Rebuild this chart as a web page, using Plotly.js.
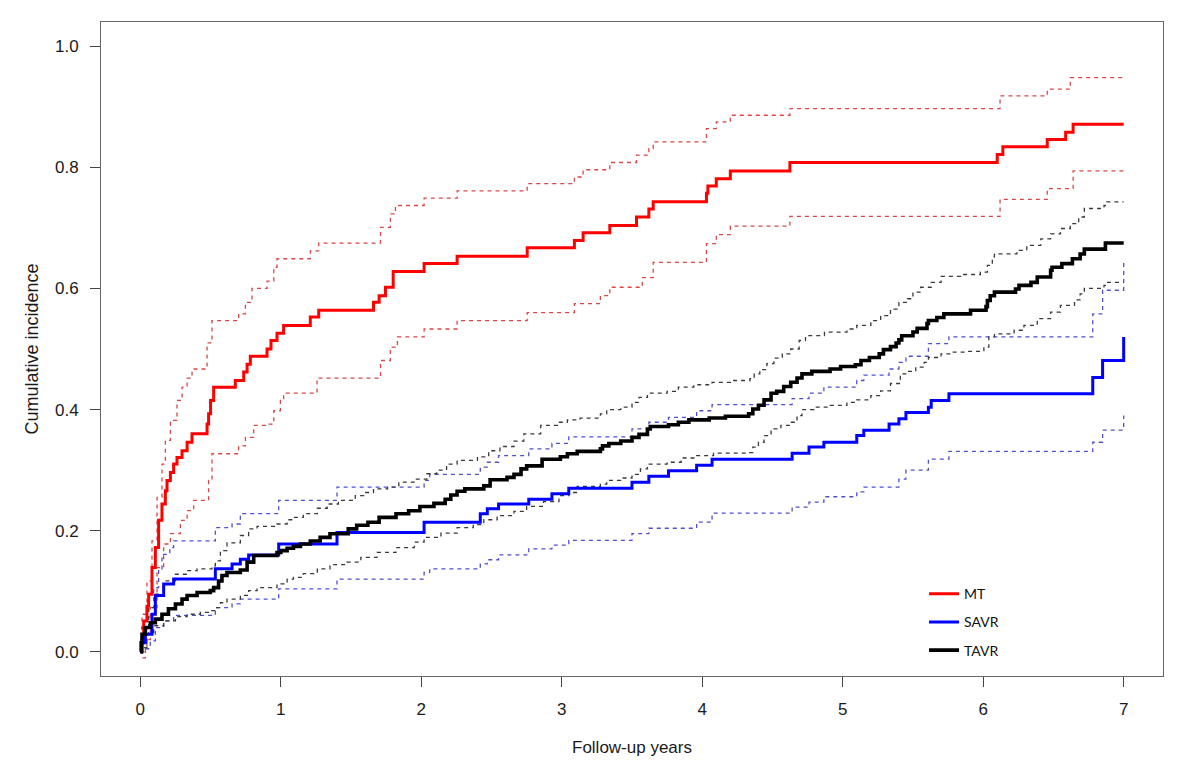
<!DOCTYPE html>
<html>
<head>
<meta charset="utf-8">
<script src="https://cdn.plot.ly/plotly-3.0.1.min.js"></script>
<style>html,body{margin:0;padding:0;background:#fff;}#chart{width:1200px;height:772px;}</style>
</head>
<body>
<div id="chart"></div>
<script>
// Cumulative incidence estimates: [follow-up years, cumulative incidence]
const groupNames = ["MT", "SAVR", "TAVR"];
const xTicks = [0, 1, 2, 3, 4, 5, 6, 7];
const yTicks = [0.0, 0.2, 0.4, 0.6, 0.8, 1.0];

const MT_est = [[0,0],[0.012,0.02],[0.024,0.051],[0.047,0.075],[0.059,0.095],[0.083,0.139],[0.107,0.172],[0.130,0.217],[0.154,0.244],[0.178,0.266],[0.19,0.283],[0.214,0.296],[0.237,0.310],[0.261,0.321],[0.297,0.332],[0.333,0.346],[0.368,0.360],[0.475,0.376],[0.486,0.393],[0.50,0.415],[0.522,0.437],[0.676,0.448],[0.736,0.462],[0.76,0.475],[0.783,0.488],[0.902,0.500],[0.93,0.514],[0.973,0.526],[1.02,0.539],[1.21,0.553],[1.27,0.564],[1.66,0.577],[1.70,0.588],[1.745,0.602],[1.80,0.628],[2.02,0.641],[2.255,0.653],[2.754,0.667],[3.09,0.679],[3.152,0.692],[3.342,0.704],[3.532,0.718],[3.62,0.731],[3.651,0.743],[4.03,0.757],[4.04,0.769],[4.10,0.781],[4.20,0.794],[4.624,0.808],[6.10,0.821],[6.14,0.834],[6.456,0.846],[6.587,0.858],[6.64,0.871],[7.0,0.871]];
const MT_upper = [[0,0],[0.012,0.062],[0.047,0.117],[0.083,0.183],[0.119,0.255],[0.154,0.31],[0.178,0.349],[0.214,0.382],[0.261,0.415],[0.297,0.437],[0.333,0.452],[0.368,0.467],[0.475,0.51],[0.51,0.547],[0.70,0.558],[0.748,0.577],[0.795,0.600],[0.902,0.612],[0.95,0.635],[0.973,0.649],[1.21,0.662],[1.27,0.675],[1.71,0.701],[1.78,0.723],[1.816,0.737],[2.02,0.749],[2.255,0.761],[2.754,0.773],[3.09,0.784],[3.152,0.796],[3.342,0.808],[3.532,0.820],[3.62,0.831],[3.651,0.842],[4.03,0.864],[4.10,0.875],[4.20,0.886],[4.624,0.897],[6.12,0.918],[6.456,0.929],[6.62,0.948],[7.0,0.948]];
const MT_lower = [[0,0],[0.012,-0.01],[0.036,0.01],[0.047,0.02],[0.071,0.073],[0.119,0.139],[0.166,0.178],[0.214,0.195],[0.285,0.217],[0.333,0.233],[0.38,0.25],[0.486,0.283],[0.51,0.327],[0.70,0.34],[0.748,0.354],[0.807,0.374],[0.89,0.376],[0.95,0.398],[0.997,0.415],[1.02,0.427],[1.258,0.452],[1.71,0.481],[1.78,0.503],[1.83,0.520],[2.02,0.533],[2.255,0.547],[2.754,0.560],[3.09,0.575],[3.275,0.588],[3.342,0.602],[3.573,0.618],[3.651,0.643],[4.03,0.674],[4.10,0.689],[4.20,0.703],[4.624,0.719],[6.12,0.747],[6.456,0.765],[6.64,0.794],[7.0,0.794]];

const SAVR_est = [[0,0],[0.012,0.015],[0.036,0.029],[0.083,0.062],[0.107,0.093],[0.166,0.112],[0.237,0.120],[0.534,0.137],[0.653,0.145],[0.712,0.153],[0.771,0.160],[0.985,0.178],[1.40,0.197],[2.02,0.214],[2.42,0.228],[2.47,0.236],[2.55,0.244],[2.765,0.252],[2.93,0.261],[3.05,0.270],[3.50,0.280],[3.62,0.290],[3.76,0.299],[3.96,0.308],[4.07,0.318],[4.64,0.328],[4.76,0.338],[4.866,0.346],[5.10,0.357],[5.15,0.366],[5.33,0.376],[5.40,0.385],[5.45,0.395],[5.61,0.404],[5.63,0.415],[5.756,0.426],[6.78,0.453],[6.85,0.481],[7.0,0.520]];
const SAVR_upper = [[0,0],[0.012,0.03],[0.059,0.073],[0.095,0.106],[0.13,0.134],[0.154,0.161],[0.21,0.172],[0.237,0.183],[0.534,0.205],[0.653,0.211],[0.712,0.228],[0.985,0.250],[1.40,0.272],[2.02,0.283],[2.06,0.293],[2.42,0.305],[2.47,0.313],[2.55,0.324],[2.765,0.335],[2.93,0.344],[3.05,0.355],[3.50,0.368],[3.62,0.379],[3.76,0.387],[3.96,0.398],[4.07,0.408],[4.64,0.418],[4.76,0.427],[4.866,0.437],[5.10,0.448],[5.15,0.457],[5.33,0.467],[5.40,0.478],[5.45,0.488],[5.61,0.509],[5.756,0.520],[6.78,0.558],[6.85,0.597],[7.0,0.646]];
const SAVR_lower = [[0,0],[0.036,0.005],[0.071,0.018],[0.107,0.040],[0.166,0.051],[0.237,0.060],[0.534,0.073],[0.653,0.079],[0.712,0.087],[0.985,0.104],[1.40,0.120],[2.02,0.131],[2.06,0.137],[2.42,0.145],[2.47,0.152],[2.55,0.160],[2.765,0.170],[2.93,0.176],[3.05,0.184],[3.50,0.195],[3.62,0.204],[3.96,0.214],[4.07,0.229],[4.64,0.239],[4.76,0.247],[4.866,0.256],[5.10,0.264],[5.15,0.272],[5.40,0.285],[5.45,0.300],[5.61,0.318],[5.756,0.331],[6.78,0.346],[6.85,0.366],[7.0,0.390]];

const TAVR_est = [[0,0],[0.006,0.015],[0.012,0.029],[0.036,0.040],[0.071,0.048],[0.107,0.054],[0.154,0.062],[0.2,0.071],[0.25,0.079],[0.297,0.087],[0.333,0.093],[0.404,0.098],[0.498,0.101],[0.522,0.106],[0.557,0.117],[0.581,0.126],[0.617,0.131],[0.712,0.135],[0.76,0.148],[0.807,0.159],[0.973,0.164],[1.0,0.167],[1.045,0.171],[1.09,0.174],[1.14,0.178],[1.21,0.183],[1.28,0.189],[1.35,0.195],[1.48,0.203],[1.54,0.209],[1.62,0.214],[1.70,0.222],[1.82,0.228],[1.91,0.233],[1.99,0.240],[2.09,0.245],[2.17,0.252],[2.21,0.259],[2.255,0.265],[2.31,0.269],[2.445,0.274],[2.49,0.284],[2.61,0.288],[2.66,0.293],[2.71,0.302],[2.75,0.307],[2.86,0.318],[2.99,0.322],[3.04,0.327],[3.11,0.331],[3.275,0.335],[3.29,0.340],[3.335,0.344],[3.42,0.348],[3.50,0.354],[3.55,0.359],[3.61,0.368],[3.63,0.372],[3.76,0.375],[3.83,0.379],[3.905,0.383],[4.05,0.386],[4.165,0.389],[4.33,0.393],[4.36,0.401],[4.40,0.407],[4.44,0.416],[4.49,0.427],[4.53,0.430],[4.58,0.438],[4.63,0.445],[4.675,0.452],[4.71,0.459],[4.78,0.463],[4.91,0.467],[4.985,0.471],[5.09,0.474],[5.13,0.481],[5.19,0.486],[5.26,0.492],[5.29,0.499],[5.34,0.504],[5.38,0.510],[5.40,0.515],[5.42,0.522],[5.50,0.528],[5.53,0.534],[5.60,0.542],[5.61,0.547],[5.67,0.552],[5.72,0.558],[5.91,0.564],[6.02,0.570],[6.03,0.580],[6.05,0.588],[6.08,0.594],[6.23,0.599],[6.255,0.605],[6.34,0.610],[6.385,0.619],[6.48,0.630],[6.49,0.635],[6.56,0.641],[6.635,0.649],[6.69,0.657],[6.72,0.665],[6.87,0.675],[7.0,0.675]];
const TAVR_upper = [[0,0],[0.012,0.04],[0.059,0.073],[0.107,0.095],[0.166,0.117],[0.25,0.128],[0.333,0.134],[0.404,0.137],[0.51,0.142],[0.534,0.150],[0.57,0.167],[0.617,0.180],[0.712,0.192],[0.771,0.203],[0.831,0.207],[0.973,0.211],[1.045,0.218],[1.09,0.222],[1.16,0.228],[1.26,0.237],[1.33,0.244],[1.41,0.250],[1.53,0.258],[1.59,0.263],[1.66,0.269],[1.76,0.272],[1.84,0.280],[1.95,0.285],[2.04,0.294],[2.11,0.300],[2.18,0.310],[2.255,0.316],[2.40,0.322],[2.48,0.332],[2.56,0.339],[2.66,0.348],[2.73,0.360],[2.85,0.374],[2.97,0.379],[3.04,0.383],[3.13,0.386],[3.275,0.393],[3.32,0.400],[3.42,0.404],[3.50,0.412],[3.55,0.420],[3.61,0.427],[3.75,0.430],[3.83,0.437],[3.94,0.441],[4.07,0.445],[4.20,0.448],[4.34,0.451],[4.37,0.459],[4.41,0.466],[4.46,0.476],[4.51,0.485],[4.57,0.492],[4.63,0.500],[4.69,0.514],[4.735,0.522],[4.87,0.528],[5.03,0.533],[5.10,0.539],[5.20,0.547],[5.27,0.555],[5.34,0.566],[5.40,0.577],[5.46,0.583],[5.50,0.594],[5.555,0.602],[5.63,0.610],[5.70,0.620],[5.84,0.623],[5.98,0.627],[6.03,0.638],[6.065,0.652],[6.08,0.657],[6.24,0.663],[6.31,0.671],[6.41,0.682],[6.48,0.690],[6.55,0.699],[6.62,0.707],[6.68,0.718],[6.72,0.732],[6.86,0.737],[6.88,0.743],[7.0,0.743]];
const TAVR_lower = [[0,0],[0.012,0.007],[0.047,0.029],[0.095,0.043],[0.166,0.051],[0.25,0.058],[0.333,0.062],[0.427,0.065],[0.498,0.068],[0.534,0.073],[0.57,0.081],[0.617,0.087],[0.712,0.093],[0.771,0.101],[0.831,0.106],[0.973,0.112],[1.045,0.120],[1.09,0.123],[1.16,0.129],[1.26,0.137],[1.35,0.144],[1.47,0.148],[1.57,0.156],[1.685,0.164],[1.82,0.172],[1.95,0.181],[2.02,0.189],[2.14,0.196],[2.255,0.205],[2.37,0.210],[2.445,0.218],[2.54,0.225],[2.66,0.232],[2.75,0.240],[2.87,0.248],[2.98,0.258],[3.05,0.263],[3.11,0.273],[3.275,0.277],[3.32,0.283],[3.42,0.287],[3.50,0.293],[3.56,0.302],[3.61,0.310],[3.75,0.313],[3.85,0.320],[3.96,0.324],[4.08,0.328],[4.32,0.329],[4.36,0.338],[4.40,0.346],[4.44,0.357],[4.49,0.368],[4.56,0.374],[4.63,0.379],[4.675,0.390],[4.71,0.400],[4.795,0.404],[4.91,0.407],[5.03,0.412],[5.10,0.416],[5.20,0.423],[5.27,0.431],[5.34,0.443],[5.41,0.459],[5.46,0.463],[5.52,0.470],[5.58,0.478],[5.61,0.486],[5.70,0.492],[5.77,0.495],[5.89,0.496],[6.005,0.503],[6.04,0.520],[6.08,0.525],[6.22,0.531],[6.29,0.539],[6.385,0.550],[6.48,0.561],[6.55,0.572],[6.65,0.581],[6.69,0.591],[6.72,0.600],[6.86,0.605],[6.88,0.610],[7.0,0.610]];

const solidColors = {MT: "#ff0000", SAVR: "#0000ff", TAVR: "#000000"};
const ciColors = {MT: "#d84848", SAVR: "#5050cc", TAVR: "#3a3a3a"};

function stepTrace(pts, color, width, dash, name, show) {
  return {
    x: pts.map(p => p[0]),
    y: pts.map(p => p[1]),
    type: "scatter",
    mode: "lines",
    line: {shape: "hv", color: color, width: width, dash: dash},
    name: name,
    legendgroup: name,
    showlegend: show,
    hoverinfo: "x+y"
  };
}

const data = [
  stepTrace(MT_upper, ciColors.MT, 1.3, "4px,4px", "MT", false),
  stepTrace(MT_lower, ciColors.MT, 1.3, "4px,4px", "MT", false),
  stepTrace(SAVR_upper, ciColors.SAVR, 1.3, "4px,4px", "SAVR", false),
  stepTrace(SAVR_lower, ciColors.SAVR, 1.3, "4px,4px", "SAVR", false),
  stepTrace(TAVR_upper, ciColors.TAVR, 1.3, "4px,4px", "TAVR", false),
  stepTrace(TAVR_lower, ciColors.TAVR, 1.3, "4px,4px", "TAVR", false),
  stepTrace(MT_est, solidColors.MT, 3, "solid", groupNames[0], true),
  stepTrace(SAVR_est, solidColors.SAVR, 3, "solid", groupNames[1], true),
  stepTrace(TAVR_est, solidColors.TAVR, 3.6, "solid", groupNames[2], true)
];

const axisFont = {family: "Liberation Sans, Arial, sans-serif", size: 17, color: "#1a1a1a"};

const layout = {
  width: 1200,
  height: 772,
  paper_bgcolor: "#ffffff",
  plot_bgcolor: "#ffffff",
  margin: {l: 101, r: 37, t: 22, b: 96, pad: 0},
  showlegend: true,
  legend: {
    x: 0.775, xanchor: "left",
    y: 0.1496, yanchor: "top",
    bgcolor: "rgba(0,0,0,0)",
    borderwidth: 0,
    traceorder: "grouped",
    tracegroupgap: 7,
    font: {family: "Lato, Open Sans, sans-serif", size: 14, color: "#111"}
  },
  xaxis: {
    range: [-0.28, 7.28],
    tickmode: "array",
    tickvals: xTicks,
    ticktext: xTicks.map(String),
    showgrid: false,
    zeroline: false,
    showline: true,
    mirror: true,
    linecolor: "#666",
    linewidth: 1,
    ticks: "outside",
    ticklen: 10,
    tickwidth: 1,
    tickcolor: "#444",
    tickfont: axisFont,
    ticklabelstandoff: 8,
    title: {text: "Follow-up years", font: {family: "Liberation Sans, Arial, sans-serif", size: 17, color: "#1a1a1a"}, standoff: 22}
  },
  yaxis: {
    range: [-0.04, 1.04],
    tickmode: "array",
    tickvals: yTicks,
    ticktext: yTicks.map(v => v.toFixed(1)),
    showgrid: false,
    zeroline: false,
    showline: true,
    mirror: true,
    linecolor: "#666",
    linewidth: 1,
    ticks: "outside",
    ticklen: 10,
    tickwidth: 1,
    tickcolor: "#444",
    tickfont: axisFont,
    ticklabelstandoff: 8,
    title: {text: "Cumulative incidence", font: {family: "Liberation Sans, Arial, sans-serif", size: 18, color: "#1a1a1a"}, standoff: 11}
  }
};

Plotly.newPlot("chart", data, layout, {staticPlot: true, displayModeBar: false});
</script>
</body>
</html>
